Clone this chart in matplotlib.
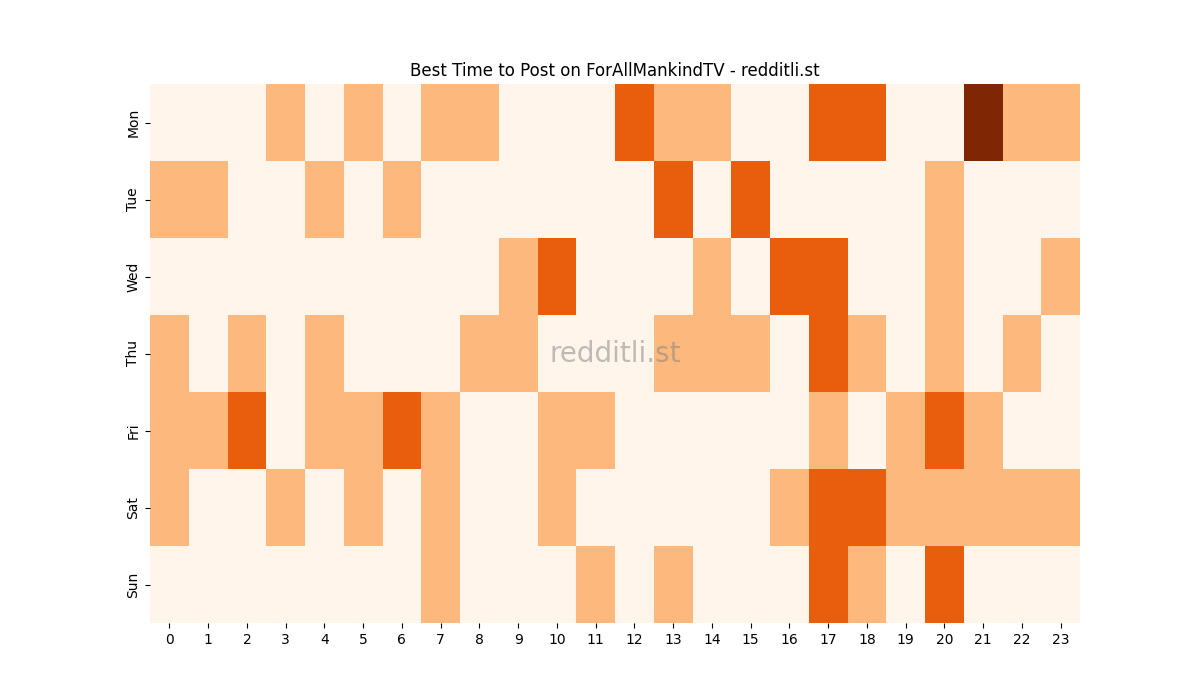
import numpy as np
import pandas as pd
import seaborn as sns
import matplotlib
matplotlib.use("Agg")
import matplotlib.pyplot as plt

days = ["Mon", "Tue", "Wed", "Thu", "Fri", "Sat", "Sun"]
hours = list(range(24))

mon = [0, 0, 0, 1, 0, 1, 0, 1, 1, 0, 0, 0, 2, 1, 1, 0, 0, 2, 2, 0, 0, 3, 1, 1]
tue = [1, 1, 0, 0, 1, 0, 1, 0, 0, 0, 0, 0, 0, 2, 0, 2, 0, 0, 0, 0, 1, 0, 0, 0]
wed = [0, 0, 0, 0, 0, 0, 0, 0, 0, 1, 2, 0, 0, 0, 1, 0, 2, 2, 0, 0, 1, 0, 0, 1]
thu = [1, 0, 1, 0, 1, 0, 0, 0, 1, 1, 0, 0, 0, 1, 1, 1, 0, 2, 1, 0, 1, 0, 1, 0]
fri = [1, 1, 2, 0, 1, 1, 2, 1, 0, 0, 1, 1, 0, 0, 0, 0, 0, 1, 0, 1, 2, 1, 0, 0]
sat = [1, 0, 0, 1, 0, 1, 0, 1, 0, 0, 1, 0, 0, 0, 0, 0, 1, 2, 2, 1, 1, 1, 1, 1]
sun = [0, 0, 0, 0, 0, 0, 0, 1, 0, 0, 0, 1, 0, 1, 0, 0, 0, 2, 1, 0, 2, 0, 0, 0]

df = pd.DataFrame([mon, tue, wed, thu, fri, sat, sun], index=days, columns=hours)

fig = plt.figure(figsize=(12, 7), dpi=100)
ax = sns.heatmap(df, cmap="Oranges", cbar=False, vmin=0, vmax=3)
ax.set_title("Best Time to Post on ForAllMankindTV - redditli.st")
ax.text(0.5, 0.5, "redditli.st", transform=ax.transAxes, ha="center", va="center",
        fontsize=20, color="gray", alpha=0.5)

fig.savefig("out.png")
